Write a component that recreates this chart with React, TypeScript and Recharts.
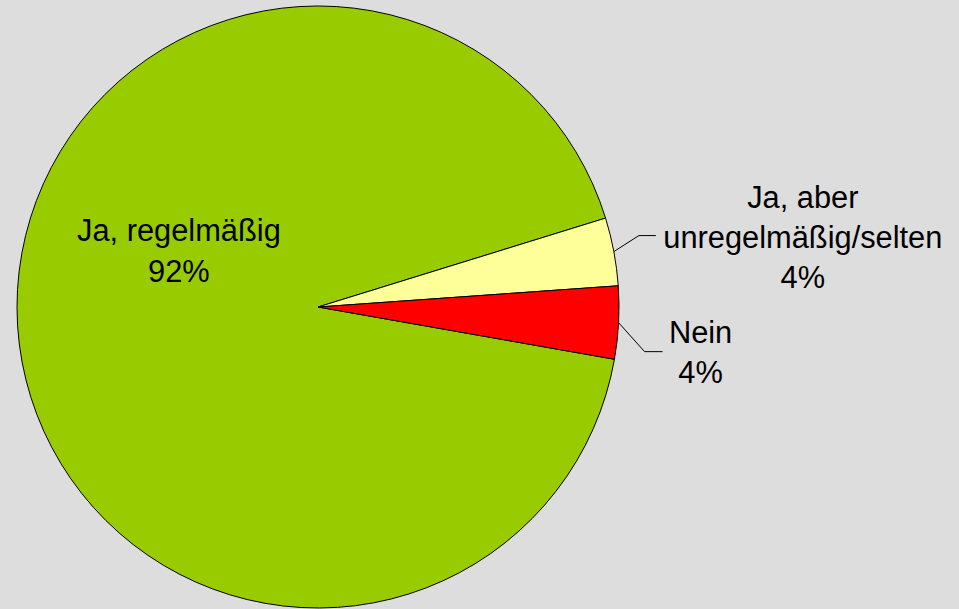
import React from 'react';
import { PieChart, Pie, Cell } from 'recharts';

// answers and their shares (percent)
const categories = ['Ja, regelmäßig', 'Ja, aber unregelmäßig/selten', 'Nein'];
const labelLines = [['Ja, regelmäßig'], ['Ja, aber', 'unregelmäßig/selten'], ['Nein']];
const shares = [92.45, 3.65, 3.9];
const COLORS = ['#99cc00', '#ffff99', '#ff0000'];

const data = categories.map((name, i) => ({ name, value: shares[i] }));
const total = shares.reduce((a, b) => a + b, 0);

const RAD = Math.PI / 180;
const FONT = '"Liberation Sans", Arial, sans-serif';
const FONT_SIZE = 30.8;

const renderLabel = (props: any) => {
  const { cx, cy, midAngle, outerRadius, index } = props;
  const pct = `${Math.round((shares[index] / total) * 100)}%`;
  const lines = [...labelLines[index], pct];

  if (index === 0) {
    // inside the big slice, left of centre
    const x = cx - outerRadius * 0.462;
    const y0 = cy - outerRadius * 0.22;
    return (
      <text x={x} y={y0} textAnchor="middle" fill="#000" fontSize={FONT_SIZE} fontFamily={FONT}>
        {lines.map((l, i) => (
          <tspan key={i} x={x} dy={i === 0 ? 0 : 41}>{l}</tspan>
        ))}
      </text>
    );
  }

  // outside labels with an elbow leader line
  const sx = cx + outerRadius * Math.cos(-midAngle * RAD);
  const sy = cy + outerRadius * Math.sin(-midAngle * RAD);
  const up = index === 1;
  const ex = sx + (up ? 25 : 26);
  const ey = sy + (up ? -16 : 29);
  const hx = ex + (up ? 17 : 18);
  const tx = up ? hx + 147 : hx + 38;
  const firstBase = up ? ey - 28 : ey - 9;

  return (
    <g>
      <polyline points={`${sx},${sy} ${ex},${ey} ${hx},${ey}`} fill="none" stroke="#000" strokeWidth={1} />
      <text x={tx} y={firstBase} textAnchor="middle" fill="#000" fontSize={FONT_SIZE} fontFamily={FONT}>
        {lines.map((l, i) => (
          <tspan key={i} x={tx} dy={i === 0 ? 0 : 40}>{l}</tspan>
        ))}
      </text>
    </g>
  );
};

export default function App() {
  return (
    <div style={{ width: 959, height: 609, background: '#dddddd' }}>
      <style>{`body{margin:0}`}</style>
      <PieChart width={959} height={609} margin={{ top: 0, right: 0, bottom: 0, left: 0 }}>
        <Pie
          data={data}
          dataKey="value"
          nameKey="name"
          cx={318}
          cy={307}
          outerRadius={301}
          startAngle={350}
          endAngle={-10}
          stroke="#000"
          strokeWidth={1}
          labelLine={false}
          label={renderLabel}
          isAnimationActive={false}
        >
          {data.map((entry, index) => (
            <Cell key={`cell-${index}`} fill={COLORS[index]} />
          ))}
        </Pie>
      </PieChart>
    </div>
  );
}
